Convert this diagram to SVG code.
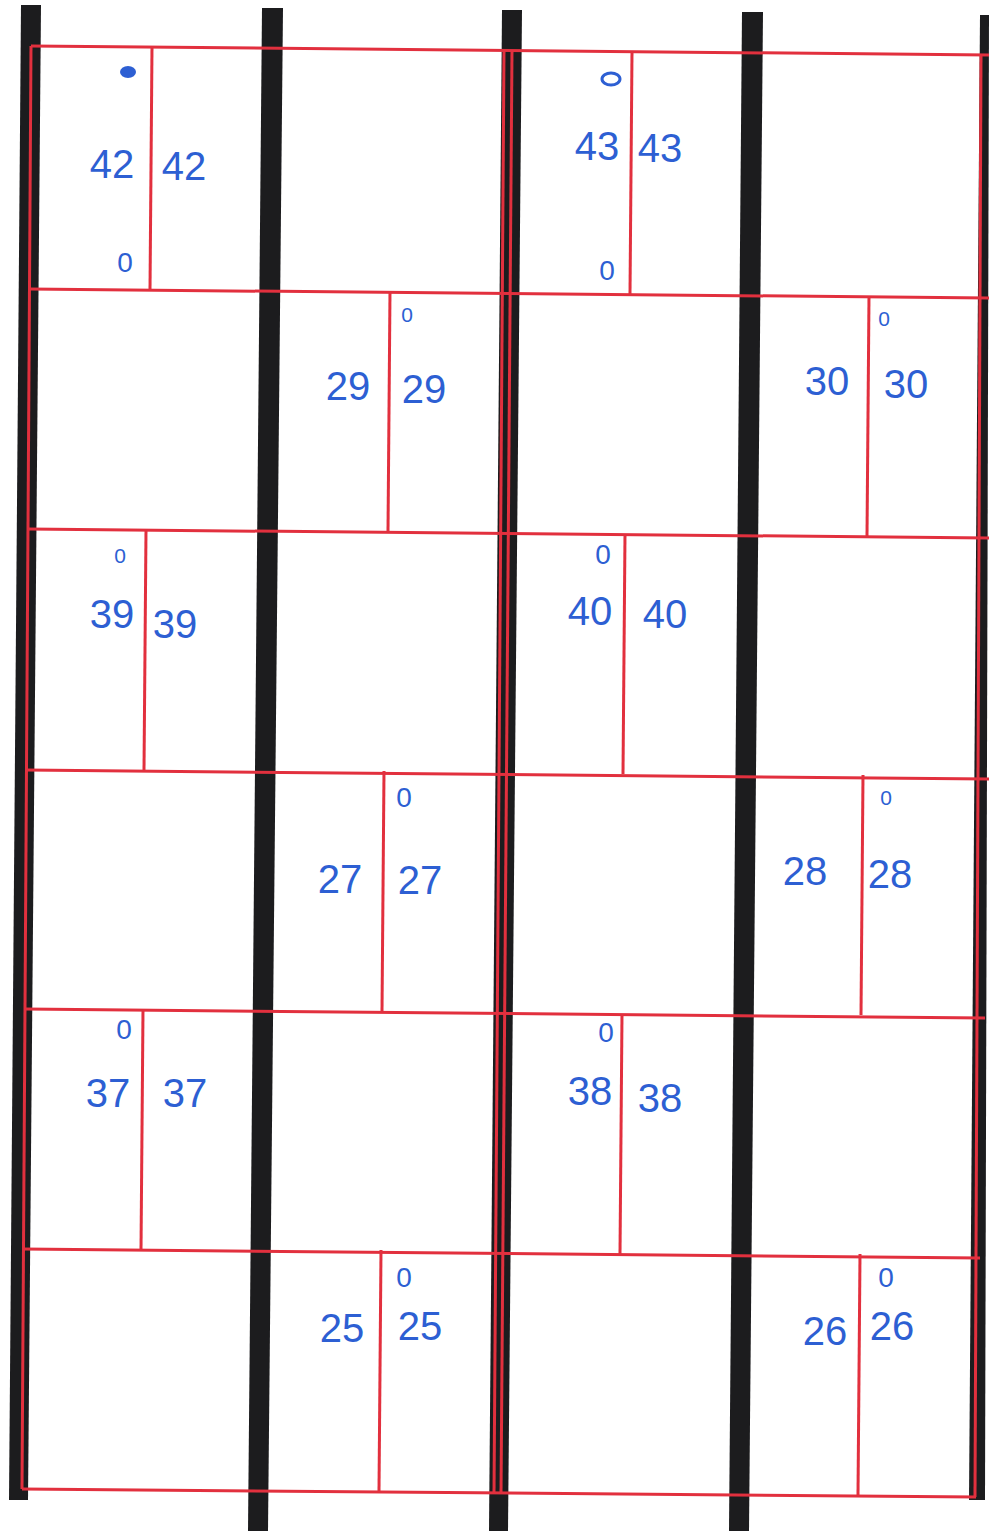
<svg xmlns="http://www.w3.org/2000/svg" width="989" height="1531" viewBox="0 0 989 1531">
<style>
.bar{fill:#1c1c1e}
.r{stroke:#e2303e;stroke-width:3;fill:none}
.n{font-family:"Liberation Sans",Arial,sans-serif;font-size:40px;fill:#2d5fd3;text-anchor:middle}
.s{font-family:"Liberation Sans",Arial,sans-serif;font-size:28px;fill:#2d5fd3;text-anchor:middle}
.t{font-size:21px}
</style>
<rect width="989" height="1531" fill="#ffffff"/>
<g id="bars">
<polygon class="bar" points="21,5 41,5 28,1500 9,1500"/>
<polygon class="bar" points="262,8 283,8 268,1531 248,1531"/>
<polygon class="bar" points="502,10 522,10 508,1531 489,1531"/>
<polygon class="bar" points="742,12 763,12 749,1531 729,1531"/>
<polygon class="bar" points="980,15 989,15 985,1500 969,1500"/>
</g>
<g id="grid">
<line class="r" x1="31" y1="46" x2="989" y2="55"/>
<line class="r" x1="29" y1="289" x2="989" y2="298"/>
<line class="r" x1="28" y1="529" x2="989" y2="538"/>
<line class="r" x1="26" y1="770" x2="989" y2="779"/>
<line class="r" x1="25" y1="1009" x2="985" y2="1018"/>
<line class="r" x1="23" y1="1249" x2="980" y2="1258"/>
<line class="r" x1="22" y1="1489" x2="976" y2="1497"/>
<line class="r" x1="31" y1="46" x2="22" y2="1489"/>
<line class="r" x1="504" y1="50" x2="494" y2="1493"/>
<line class="r" x1="512" y1="50" x2="501" y2="1493"/>
<line class="r" x1="981" y1="55" x2="975" y2="1497"/>
</g>
<g id="cell-42">
<line class="r" x1="152" y1="47" x2="150" y2="290"/>
<ellipse cx="128" cy="72" rx="8" ry="6" fill="#2d5fd3"/>
<text class="n" x="112" y="178">42</text>
<text class="n" x="184" y="180">42</text>
<text class="s" x="125" y="272">0</text>
</g>
<g id="cell-43">
<line class="r" x1="632" y1="52" x2="630" y2="294"/>
<ellipse cx="611" cy="79" rx="9" ry="6" fill="none" stroke="#2d5fd3" stroke-width="3"/>
<text class="n" x="597" y="160">43</text>
<text class="n" x="660" y="162">43</text>
<text class="s" x="607" y="280">0</text>
</g>
<g id="cell-29">
<line class="r" x1="390" y1="291" x2="388" y2="531"/>
<text class="s t" x="407" y="322">0</text>
<text class="n" x="348" y="400">29</text>
<text class="n" x="424" y="403">29</text>
</g>
<g id="cell-30">
<line class="r" x1="869" y1="296" x2="867" y2="536"/>
<text class="s t" x="884" y="326">0</text>
<text class="n" x="827" y="395">30</text>
<text class="n" x="906" y="398">30</text>
</g>
<g id="cell-39">
<line class="r" x1="146" y1="530" x2="144" y2="770"/>
<text class="s t" x="120" y="563">0</text>
<text class="n" x="112" y="628">39</text>
<text class="n" x="175" y="638">39</text>
</g>
<g id="cell-40">
<line class="r" x1="625" y1="534" x2="623" y2="774"/>
<text class="s" x="603" y="564">0</text>
<text class="n" x="590" y="625">40</text>
<text class="n" x="665" y="628">40</text>
</g>
<g id="cell-27">
<line class="r" x1="384" y1="771" x2="382" y2="1011"/>
<text class="s" x="404" y="807">0</text>
<text class="n" x="340" y="893">27</text>
<text class="n" x="420" y="894">27</text>
</g>
<g id="cell-28">
<line class="r" x1="863" y1="775" x2="861" y2="1015"/>
<text class="s t" x="886" y="805">0</text>
<text class="n" x="805" y="885">28</text>
<text class="n" x="890" y="888">28</text>
</g>
<g id="cell-37">
<line class="r" x1="143" y1="1010" x2="141" y2="1250"/>
<text class="s" x="124" y="1039">0</text>
<text class="n" x="108" y="1107">37</text>
<text class="n" x="185" y="1107">37</text>
</g>
<g id="cell-38">
<line class="r" x1="622" y1="1014" x2="620" y2="1254"/>
<text class="s" x="606" y="1042">0</text>
<text class="n" x="590" y="1105">38</text>
<text class="n" x="660" y="1112">38</text>
</g>
<g id="cell-25">
<line class="r" x1="381" y1="1250" x2="379" y2="1491"/>
<text class="s" x="404" y="1287">0</text>
<text class="n" x="342" y="1342">25</text>
<text class="n" x="420" y="1340">25</text>
</g>
<g id="cell-26">
<line class="r" x1="860" y1="1254" x2="858" y2="1495"/>
<text class="s" x="886" y="1287">0</text>
<text class="n" x="825" y="1345">26</text>
<text class="n" x="892" y="1340">26</text>
</g>
</svg>
